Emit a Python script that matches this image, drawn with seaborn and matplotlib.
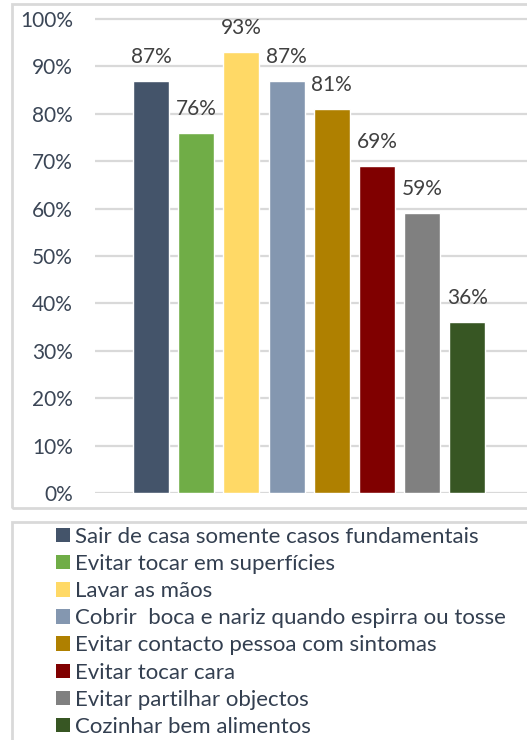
import matplotlib
matplotlib.use("Agg")
import matplotlib.pyplot as plt
from matplotlib.patches import Rectangle, Patch
import seaborn as sns
import pandas as pd

# Protective measures and the share of respondents reporting each
measures = [
    "Sair de casa somente casos fundamentais",
    "Evitar tocar em superfícies",
    "Lavar as mãos",
    "Cobrir  boca e nariz quando espirra ou tosse",
    "Evitar contacto pessoa com sintomas",
    "Evitar tocar cara",
    "Evitar partilhar objectos",
    "Cozinhar bem alimentos",
]
shares = [0.87, 0.76, 0.93, 0.87, 0.81, 0.69, 0.59, 0.36]
colors = ["#44546A", "#70AD47", "#FFD966", "#8497B0",
          "#AF8000", "#800000", "#808080", "#375623"]
yticks = [0.0, 0.1, 0.2, 0.3, 0.4, 0.5, 0.6, 0.7, 0.8, 0.9, 1.0]
ytick_labels = ["0%", "10%", "20%", "30%", "40%", "50%", "60%", "70%", "80%", "90%", "100%"]

sns.set_theme(style="white")
plt.rcParams["font.family"] = ["Lato", "DejaVu Sans"]

W, H = 527, 740
fig = plt.figure(figsize=(W / 100, H / 100), dpi=100)

df = pd.DataFrame({"measure": measures, "share": shares})

# Axes placement in pixels: 0% line at y=493, 100% line at y=19
y0, y100 = 493, 19
ymax = 1.02
top_px = y0 - (y0 - y100) * ymax
ax = fig.add_axes([95 / W, 1 - y0 / H, 1 - 95 / W, (y0 - top_px) / H])

sns.barplot(data=df, x="measure", y="share", hue="measure",
            palette=colors, order=measures, hue_order=measures,
            dodge=False, legend=False, width=0.8, saturation=1, ax=ax)

ax.set_ylim(0, ymax)
ax.set_xlim(-1.24, 8.32)
ax.set_yticks(yticks)
ax.set_yticklabels(ytick_labels, fontsize=15, color="#3B4656")
ax.set_xticks([])
ax.set_xlabel("")
ax.set_ylabel("")
ax.tick_params(axis="y", length=0, pad=16)
ax.yaxis.grid(True, color="#D9D9D9", linewidth=1.6)
ax.set_axisbelow(True)
for s in ax.spines.values():
    s.set_visible(False)

for i, v in enumerate(shares):
    ax.annotate(f"{round(v * 100)}%", xy=(i, v), xytext=(0, 10),
                textcoords="offset points", ha="center", va="bottom",
                fontsize=15, color="#404040")

# Outer frames of the chart area and the legend area
fig.patches.append(Rectangle((12 / W, 1 - 508 / H), 1.0, (508 - 4) / H,
                             transform=fig.transFigure, fill=False,
                             edgecolor="#D9D9D9", linewidth=2.0))
fig.patches.append(Rectangle((12 / W, 1 - 760 / H), 1.0, (760 - 522) / H,
                             transform=fig.transFigure, fill=False,
                             edgecolor="#D9D9D9", linewidth=2.0))

handles = [Patch(facecolor=c, edgecolor="none") for c in colors]
fig.legend(handles, measures, loc="upper left",
           bbox_to_anchor=(56 / W, 1 - 527 / H), frameon=False,
           fontsize=16, labelcolor="#333F50", handlelength=0.62,
           handleheight=0.62, handletextpad=0.25, labelspacing=0.32,
           borderaxespad=0, borderpad=0)

fig.savefig("out.png", dpi=100)
